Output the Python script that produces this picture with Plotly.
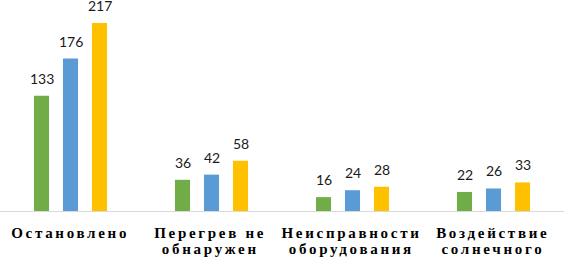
import plotly.graph_objects as go

categories = ["Остановлено", "Перегрев не<br>обнаружен", "Неисправности<br>оборудования", "Воздействие<br>солнечного"]
series_a = [133, 36, 16, 22]
series_b = [176, 42, 24, 26]
series_c = [217, 58, 28, 33]
colors = ["#70AD47", "#5B9BD5", "#FFC000"]
offsets = [-1, 0, 1]

fig = go.Figure()
for vals, col in zip([series_a, series_b, series_c], colors):
    fig.add_trace(go.Bar(
        x=categories, y=vals, marker_color=col, marker_line_width=0,
        cliponaxis=False, hoverinfo="skip",
    ))

bargap = 0.383
slot = (1 - bargap) / 3
annotations = []
for vals, off in zip([series_a, series_b, series_c], offsets):
    for i, v in enumerate(vals):
        annotations.append(dict(
            x=i + off * slot, y=v, xref="x", yref="y", text=str(v),
            showarrow=False, yanchor="bottom", yshift=7,
            font=dict(family="Lato", size=14, color="#1a1a1a"),
        ))

# category labels: one annotation per line for tight line spacing
line_shifts = [-11.5, -27.5]
for i, cat in enumerate(categories):
    for j, line in enumerate(cat.split("<br>")):
        annotations.append(dict(
            x=i, y=0, xref="x", yref="paper", text=line,
            showarrow=False, yanchor="top", yshift=line_shifts[j], xshift=-1,
            font=dict(family="Liberation Serif", size=15, color="#000000", weight="bold"),
        ))

fig.update_layout(
    width=564, height=258,
    margin=dict(l=0, r=0, t=0, b=47, autoexpand=False),
    paper_bgcolor="white", plot_bgcolor="white",
    barmode="group", bargap=bargap, bargroupgap=0.48,
    showlegend=False,
    annotations=annotations,
)
fig.update_xaxes(
    type="category", range=[-0.5, 3.5],
    showline=True, linecolor="#D9D9D9", linewidth=1,
    showgrid=False, ticks="", automargin=False, showticklabels=False,
)
fig.update_yaxes(range=[0, 243.6], visible=False, showgrid=False, zeroline=False, automargin=False)

post = """
var s = document.createElement('style');
s.innerHTML = 'body{margin:0;} .annotation-text[style*=Serif]{letter-spacing:2.7px;}';
document.head.appendChild(s);
"""
fig.write_html("out.html", post_script=post, config={"displayModeBar": False})
